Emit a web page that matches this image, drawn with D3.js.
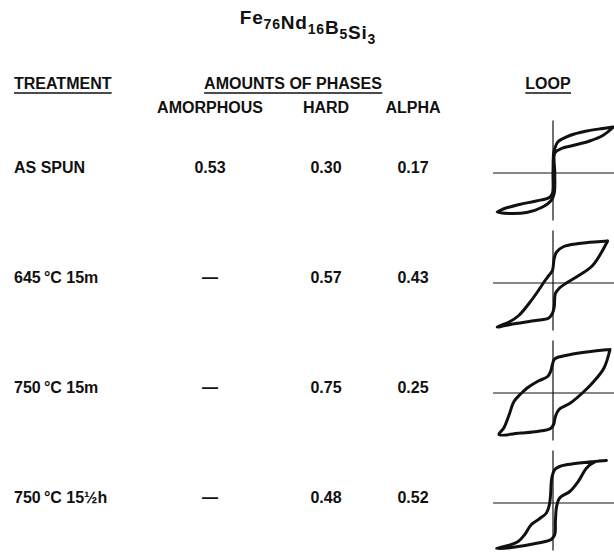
<!DOCTYPE html>
<html>
<head>
<meta charset="utf-8">
<script src="https://cdn.jsdelivr.net/npm/d3@7.9.0/dist/d3.min.js"></script>
<style>
  body { margin: 0; background: #fff; }
  svg text {
    font-family: "Liberation Sans", Arial, Helvetica, sans-serif;
    font-weight: bold;
    fill: #111;
  }
</style>
</head>
<body>
<svg width="614" height="553"></svg>
<script>
// table data
const treatments = ["AS SPUN", "645\u2009°C 15m", "750\u2009°C 15m", "750\u2009°C 15½h"];
const amorphous = ["0.53", "—", "—", "—"];
const hard = ["0.30", "0.57", "0.75", "0.48"];
const alpha = ["0.17", "0.43", "0.25", "0.52"];
const phaseLabels = ["AMORPHOUS", "HARD", "ALPHA"];
const formula = [["Fe", "76"], ["Nd", "16"], ["B", "5"], ["Si", "3"]];

// loop sketches, [H, M] in normalised units (descending branch then ascending)
const loopAsSpun = [
  [1.0, 0.92], [0.83, 0.89], [0.56, 0.84], [0.28, 0.75], [0.08, 0.62], [0.03, 0.49],
  [0.01, 0.39], [0.0, 0.0], [-0.01, -0.41], [-0.06, -0.49], [-0.28, -0.56],
  [-0.56, -0.63], [-0.83, -0.72], [-0.93, -0.78],
  [-0.72, -0.81], [-0.44, -0.79], [-0.19, -0.69], [-0.03, -0.55], [0.02, -0.41],
  [0.03, 0.0], [0.03, 0.40], [0.14, 0.49], [0.33, 0.55], [0.61, 0.64], [0.83, 0.75], [1.0, 0.91]
];
const loop645 = [
  [0.91, 0.84], [0.43, 0.79], [0.18, 0.73], [0.06, 0.62], [0.02, 0.49], [-0.01, 0.25],
  [-0.07, 0.15], [-0.15, 0.02], [-0.26, -0.18], [-0.40, -0.41], [-0.57, -0.65],
  [-0.73, -0.78], [-0.93, -0.88],
  [-0.62, -0.81], [-0.29, -0.75], [-0.07, -0.70], [-0.01, -0.61], [0.02, -0.48],
  [0.04, -0.21], [0.10, -0.11], [0.21, -0.01], [0.43, 0.15], [0.66, 0.35], [0.91, 0.84]
];
const loop750 = [
  [0.95, 0.87], [0.63, 0.83], [0.29, 0.77], [0.07, 0.71], [0.02, 0.67], [-0.01, 0.57],
  [-0.04, 0.43], [-0.09, 0.33], [-0.26, 0.23], [-0.43, 0.10], [-0.54, -0.02],
  [-0.65, -0.17], [-0.73, -0.43], [-0.82, -0.70], [-0.90, -0.83],
  [-0.54, -0.80], [-0.26, -0.77], [-0.04, -0.71], [0.01, -0.63], [0.04, -0.47],
  [0.10, -0.33], [0.29, -0.20], [0.49, 0.0], [0.68, 0.23], [0.85, 0.50], [0.95, 0.87]
];
const loop750long = [
  [0.89, 0.85], [0.69, 0.83], [0.31, 0.78], [0.11, 0.73], [0.03, 0.67], [-0.02, 0.50],
  [-0.04, 0.17], [-0.06, -0.03], [-0.11, -0.20], [-0.22, -0.31], [-0.36, -0.43],
  [-0.47, -0.63], [-0.58, -0.77], [-0.75, -0.85], [-0.94, -0.91],
  [-0.69, -0.89], [-0.25, -0.80], [-0.03, -0.73], [0.03, -0.63], [0.04, -0.37],
  [0.06, -0.07], [0.11, 0.10], [0.28, 0.23], [0.42, 0.43], [0.56, 0.70], [0.69, 0.82], [0.89, 0.85]
];
const loops = [loopAsSpun, loop645, loop750, loop750long];

// layout
const colX = { treatment: 14, amorphous: 210, hard: 326, alpha: 413, loop: 553 };
const fontSize = "16px";
const svg = d3.select("svg");

const rowY = d3.scalePoint().domain(treatments).range([173, 503]);
const phaseX = d3.scaleOrdinal().domain(phaseLabels).range([colX.amorphous, colX.hard, colX.alpha]);

// title with subscripts
const title = svg.append("text")
  .attr("x", 308)
  .attr("y", 24)
  .attr("text-anchor", "middle")
  .style("font-size", "19px")
  .style("letter-spacing", "0.8px");
formula.forEach(([el, sub]) => {
  title.append("tspan").text(el);
  title.append("tspan").attr("dy", 5).style("font-size", "14px").text(sub);
  title.append("tspan").attr("dy", -5).text("");
});

// underlined column headers
function header(text, x, anchor) {
  const t = svg.append("text")
    .attr("x", x)
    .attr("y", 89)
    .attr("text-anchor", anchor)
    .style("font-size", fontSize)
    .text(text);
  const b = t.node().getBBox();
  svg.append("line")
    .attr("x1", b.x).attr("x2", b.x + b.width)
    .attr("y1", 93).attr("y2", 93)
    .attr("stroke", "#111").attr("stroke-width", 1.5);
}
header("TREATMENT", colX.treatment, "start");
header("AMOUNTS OF PHASES", 293, "middle");
header("LOOP", 548, "middle");

svg.selectAll("text.phase")
  .data(phaseLabels)
  .join("text")
  .attr("class", "phase")
  .attr("x", (d) => phaseX(d))
  .attr("y", 113)
  .attr("text-anchor", "middle")
  .style("font-size", fontSize)
  .text((d) => d);

// table rows
treatments.forEach((t, i) => {
  const y = rowY(t);
  const row = svg.append("g").style("font-size", fontSize);
  row.append("text").attr("x", colX.treatment).attr("y", y).text(t);
  [[colX.amorphous, amorphous[i]], [colX.hard, hard[i]], [colX.alpha, alpha[i]]].forEach(([x, v]) => {
    row.append("text").attr("x", x).attr("y", y).attr("text-anchor", "middle").text(v);
  });
});

// hysteresis loops
loops.forEach((pts, i) => {
  const cy = rowY(treatments[i]);
  const x = d3.scaleLinear().domain([-1, 1]).range([colX.loop - 60, colX.loop + 60]);
  const y = d3.scaleLinear().domain([-1, 1]).range([cy + 50, cy - 50]);
  const g = svg.append("g");

  g.append("line")
    .attr("x1", x(-1)).attr("x2", x(1.02))
    .attr("y1", y(0)).attr("y2", y(0))
    .attr("stroke", "#111").attr("stroke-width", 1.2);
  g.append("line")
    .attr("x1", x(0)).attr("x2", x(0))
    .attr("y1", y(1.05)).attr("y2", y(-0.95))
    .attr("stroke", "#111").attr("stroke-width", 1.2);

  const line = d3.line()
    .x((d) => x(d[0]))
    .y((d) => y(d[1]))
    .curve(d3.curveCatmullRom.alpha(0.5));

  g.append("path")
    .attr("d", line(pts))
    .attr("fill", "none")
    .attr("stroke", "#111")
    .attr("stroke-width", 3)
    .attr("stroke-linejoin", "round")
    .attr("stroke-linecap", "round");
});
</script>
</body>
</html>
